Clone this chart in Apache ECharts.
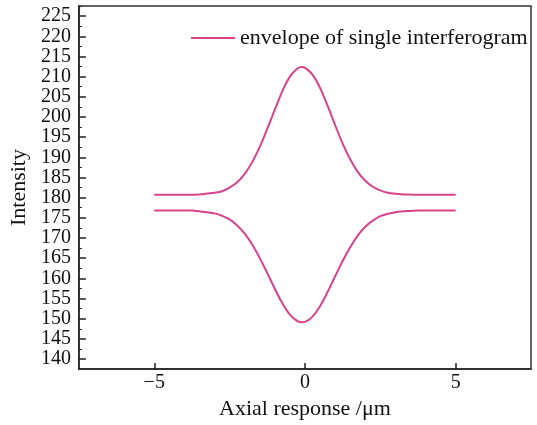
<!DOCTYPE html>
<html>
<head>
<meta charset="utf-8">
<script src="https://cdn.jsdelivr.net/npm/echarts@6/dist/echarts.min.js"></script>
<style>
  html, body { margin: 0; padding: 0; background: #fff; }
  #main { width: 537px; height: 425px; }
</style>
</head>
<body>
<div id="main"></div>
<script>
// axial position (um)
var xs = [-5, -4.75, -4.5, -4.25, -4, -3.75, -3.5, -3.25, -3, -2.75, -2.5, -2.25, -2, -1.75, -1.5, -1.25, -1, -0.75, -0.5, -0.25, -0.1,
    0, 0.25, 0.5, 0.75, 1, 1.25, 1.5, 1.75, 2, 2.25, 2.5, 2.75, 3, 3.25, 3.5, 3.75, 4, 4.25, 4.5, 4.75, 5];
// upper envelope
var upper = [180.7, 180.7, 180.7, 180.7, 180.7, 180.7, 180.8, 181.0, 181.2, 181.6, 182.5, 183.8, 185.9, 188.8, 192.6, 197.1, 201.8, 206.4, 210.0, 212.0, 212.4,
    212.2, 210.5, 207.2, 202.8, 198.0, 193.4, 189.5, 186.4, 184.2, 182.7, 181.8, 181.2, 180.95, 180.8, 180.75, 180.7, 180.7, 180.7, 180.7, 180.7, 180.7];
// lower envelope
var lower = [176.8, 176.8, 176.8, 176.8, 176.8, 176.8, 176.6, 176.4, 176.1, 175.5, 174.6, 173.1, 171.1, 168.4, 165.0, 161.3, 157.4, 153.8, 151.0, 149.4, 149.1,
    149.2, 150.5, 153.1, 156.6, 160.5, 164.3, 167.7, 170.6, 172.8, 174.3, 175.4, 176.0, 176.4, 176.6, 176.7, 176.8, 176.8, 176.8, 176.8, 176.8, 176.8];
var yTicks = [140, 145, 150, 155, 160, 165, 170, 175, 180, 185, 190, 195, 200, 205, 210, 215, 220, 225];
var yMinorTicks = [142.5, 147.5, 152.5, 157.5, 162.5, 167.5, 172.5, 177.5, 182.5, 187.5, 192.5, 197.5, 202.5, 207.5, 212.5, 217.5, 222.5, 227.5];
var xTicks = [-5, 0, 5];

var seriesName = 'envelope of single interferogram';
var lineColor = '#d9428a';
var serif = 'Liberation Serif';

var chart = echarts.init(document.getElementById('main'));

var option = {
    backgroundColor: '#fff',
    animation: false,
    grid: {
        left: 78, right: 6, top: 6, bottom: 53,
        show: true,
        borderColor: '#333',
        borderWidth: 1.5
    },
    legend: {
        data: [seriesName],
        left: 186,
        top: 22,
        icon: 'rect',
        itemWidth: 44,
        itemHeight: 2,
        textStyle: { fontFamily: serif, fontSize: 22, color: '#111' }
    },
    xAxis: {
        type: 'value',
        min: -7.5,
        max: 7.5,
        name: 'Axial response /\u03bcm',
        nameLocation: 'middle',
        nameGap: 28,
        nameTextStyle: { fontFamily: serif, fontSize: 22, color: '#111' },
        axisLine: { onZero: false, lineStyle: { color: '#222', width: 1.5 } },
        axisTick: { inside: true, length: 6, customValues: xTicks, lineStyle: { color: '#222', width: 1.5 } },
        axisLabel: {
            customValues: xTicks,
            margin: 4,
            fontFamily: serif, fontSize: 20, color: '#111',
            formatter: function (v) { return v < 0 ? '\u2212' + Math.abs(v) : String(v); }
        },
        splitLine: { show: false }
    },
    yAxis: [{
        type: 'value',
        min: 137.5,
        max: 227.5,
        name: 'Intensity',
        nameLocation: 'middle',
        nameGap: 46,
        nameTextStyle: { fontFamily: serif, fontSize: 22, color: '#111' },
        axisLine: { show: true, onZero: false, lineStyle: { color: '#222', width: 1.5 } },
        axisTick: { inside: true, length: 7, customValues: yTicks, lineStyle: { color: '#222', width: 1.5 } },
        axisLabel: { customValues: yTicks, margin: 8, fontFamily: serif, fontSize: 20, color: '#111' },
        splitLine: { show: false }
    }, {
        type: 'value',
        position: 'left',
        min: 137.5,
        max: 227.5,
        axisLine: { show: false, onZero: false },
        axisTick: { inside: true, length: 3, customValues: yMinorTicks, lineStyle: { color: '#222', width: 1 } },
        axisLabel: { show: false },
        splitLine: { show: false }
    }],
    series: [{
        name: seriesName,
        type: 'line',
        data: xs.map(function (x, i) { return [x, upper[i]]; }),
        symbol: 'none',
        smooth: 0.4,
        lineStyle: { color: lineColor, width: 2 },
        itemStyle: { color: lineColor }
    }, {
        name: seriesName,
        type: 'line',
        data: xs.map(function (x, i) { return [x, lower[i]]; }),
        symbol: 'none',
        smooth: 0.4,
        lineStyle: { color: lineColor, width: 2 },
        itemStyle: { color: lineColor }
    }]
};

chart.setOption(option);
</script>
</body>
</html>
